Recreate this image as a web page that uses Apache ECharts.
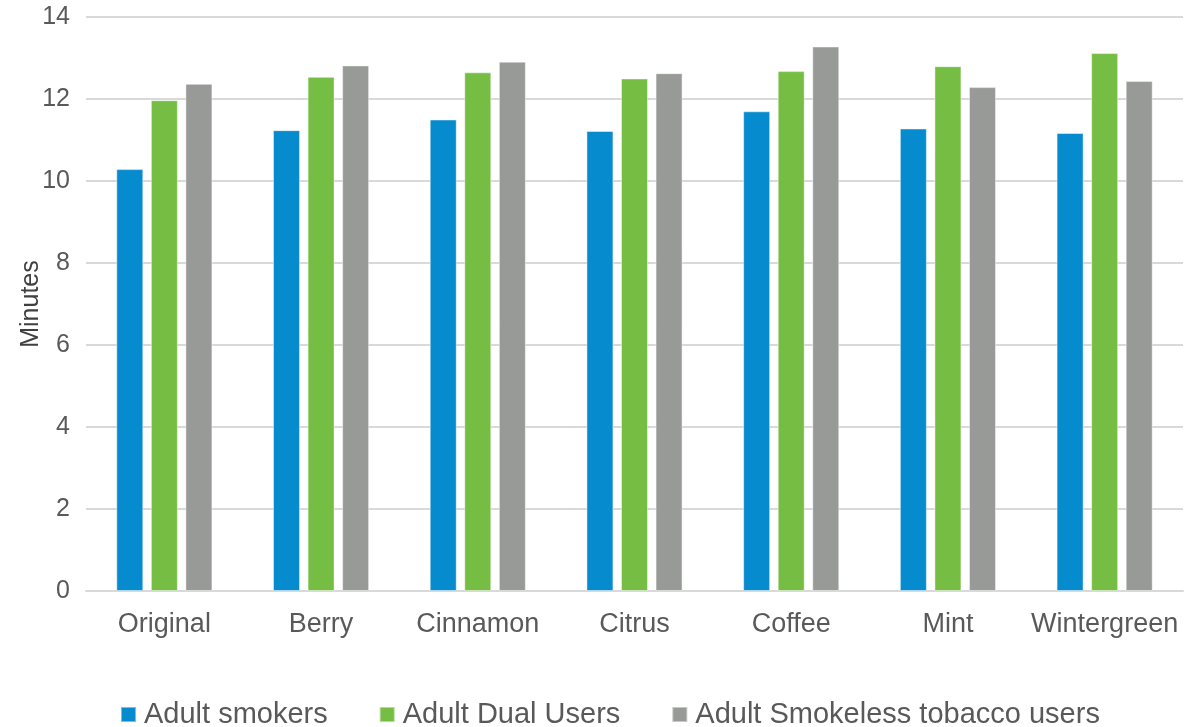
<!DOCTYPE html>
<html>
<head>
<meta charset="utf-8">
<title>Minutes by flavour</title>
<script src="https://cdn.jsdelivr.net/npm/echarts@6/dist/echarts.min.js"></script>
<style>
  html, body { margin: 0; padding: 0; background: #fff; }
  #chart { width: 1198px; height: 727px; }
</style>
</head>
<body>
<div id="chart"></div>
<script>
// categories and values
const flavours = ["Original", "Berry", "Cinnamon", "Citrus", "Coffee", "Mint", "Wintergreen"];
const smokers = [10.29, 11.24, 11.5, 11.22, 11.7, 11.28, 11.17];
const dualUsers = [11.97, 12.54, 12.65, 12.5, 12.68, 12.8, 13.12];
const smokeless = [12.37, 12.82, 12.91, 12.63, 13.28, 12.29, 12.44];
const seriesNames = ["Adult smokers", "Adult Dual Users", "Adult Smokeless tobacco users"];
const seriesColors = ["#078bcf", "#76bd43", "#989a97"];

const textColor = "#595959";
const fontFam = "Liberation Sans, Arial, sans-serif";

function makeBar(name, data, color) {
  return {
    name: name,
    type: "bar",
    data: data,
    barWidth: 27,
    barGap: "28%",
    itemStyle: {
      color: color,
      borderColor: "rgba(255,255,255,0.45)",
      borderWidth: 1,
    },
  };
}

const chart = echarts.init(document.getElementById("chart"));
chart.setOption({
  animation: false,
  textStyle: { fontFamily: fontFam },
  grid: {
    left: 86,
    right: 15,
    top: 17,
    bottom: 136,
  },
  legend: {
    top: 695,
    left: 115,
    itemWidth: 15,
    itemHeight: 15,
    itemGap: 51,
    icon: "rect",
    textStyle: { color: textColor, fontSize: 29, padding: [0, 0, 0, 3], fontFamily: fontFam },
  },
  xAxis: {
    type: "category",
    data: flavours,
    axisTick: { show: false },
    axisLine: { lineStyle: { color: "#d9d9d9", width: 2 } },
    axisLabel: { color: textColor, fontSize: 27, margin: 20, interval: 0, fontFamily: fontFam },
  },
  yAxis: {
    type: "value",
    min: 0,
    max: 14,
    interval: 2,
    name: "Minutes",
    nameLocation: "middle",
    nameGap: 42,
    nameMoveOverlap: false,
    nameTextStyle: { color: "#404040", fontSize: 25, fontFamily: fontFam },
    axisLabel: { color: textColor, fontSize: 25, margin: 16, fontFamily: fontFam },
    splitLine: { lineStyle: { color: "#d9d9d9", width: 2 } },
  },
  series: [
    makeBar(seriesNames[0], smokers, seriesColors[0]),
    makeBar(seriesNames[1], dualUsers, seriesColors[1]),
    makeBar(seriesNames[2], smokeless, seriesColors[2]),
  ],
});
</script>
</body>
</html>
